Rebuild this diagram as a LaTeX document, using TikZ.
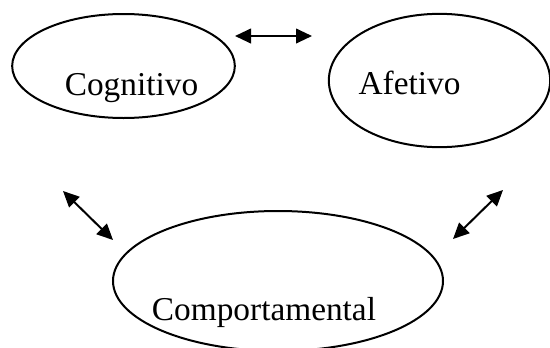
\documentclass[tikz,border=0pt]{standalone}
\usepackage{fontspec}
\setmainfont{Liberation Serif}
\usetikzlibrary{shapes.geometric,arrows.meta}

\tikzset{every picture/.style={line width=1.5pt}}
\tikzset{
  oval/.style={draw, ellipse, inner sep=0pt},
  lbl/.style={anchor=base, inner sep=0.75pt, font=\fontsize{25}{30}\selectfont},
  twoway/.style={{Triangle[length=12pt,width=11pt]}-{Triangle[length=12pt,width=11pt]}, line width=1.5pt}
}

\begin{document}
\begin{tikzpicture}[x=0.75pt,y=0.75pt,yscale=-1,xscale=1]
\useasboundingbox (0,0) rectangle (550,347);

% Ellipse
\node [oval, minimum width=167pt, minimum height=78pt] (cog) at (123.5,66) {};
% Ellipse
\node [oval, minimum width=166pt, minimum height=100pt] (afe) at (439.5,80.5) {};
% Ellipse
\node [oval, minimum width=247.5pt, minimum height=105pt] (com) at (278,281) {};

% Text Node
\node [lbl] (cogtxt) at (131.5,95) {Cognitivo};
% Text Node
\node [lbl] (afetxt) at (409.5,94) {Afetivo};
% Text Node
\node [lbl] (comtxt) at (264,320) {Comportamental};

% Arrow ends
\coordinate (t1) at (235,36);
\coordinate (t2) at (312,36);
\coordinate (l1) at (63,191);
\coordinate (l2) at (113,240);
\coordinate (r1) at (453,239);
\coordinate (r2) at (503,190);

% Connection
\draw [twoway] (t1) -- (t2);
% Connection
\draw [twoway] (l1) -- (l2);
% Connection
\draw [twoway] (r1) -- (r2);

\end{tikzpicture}
\end{document}
